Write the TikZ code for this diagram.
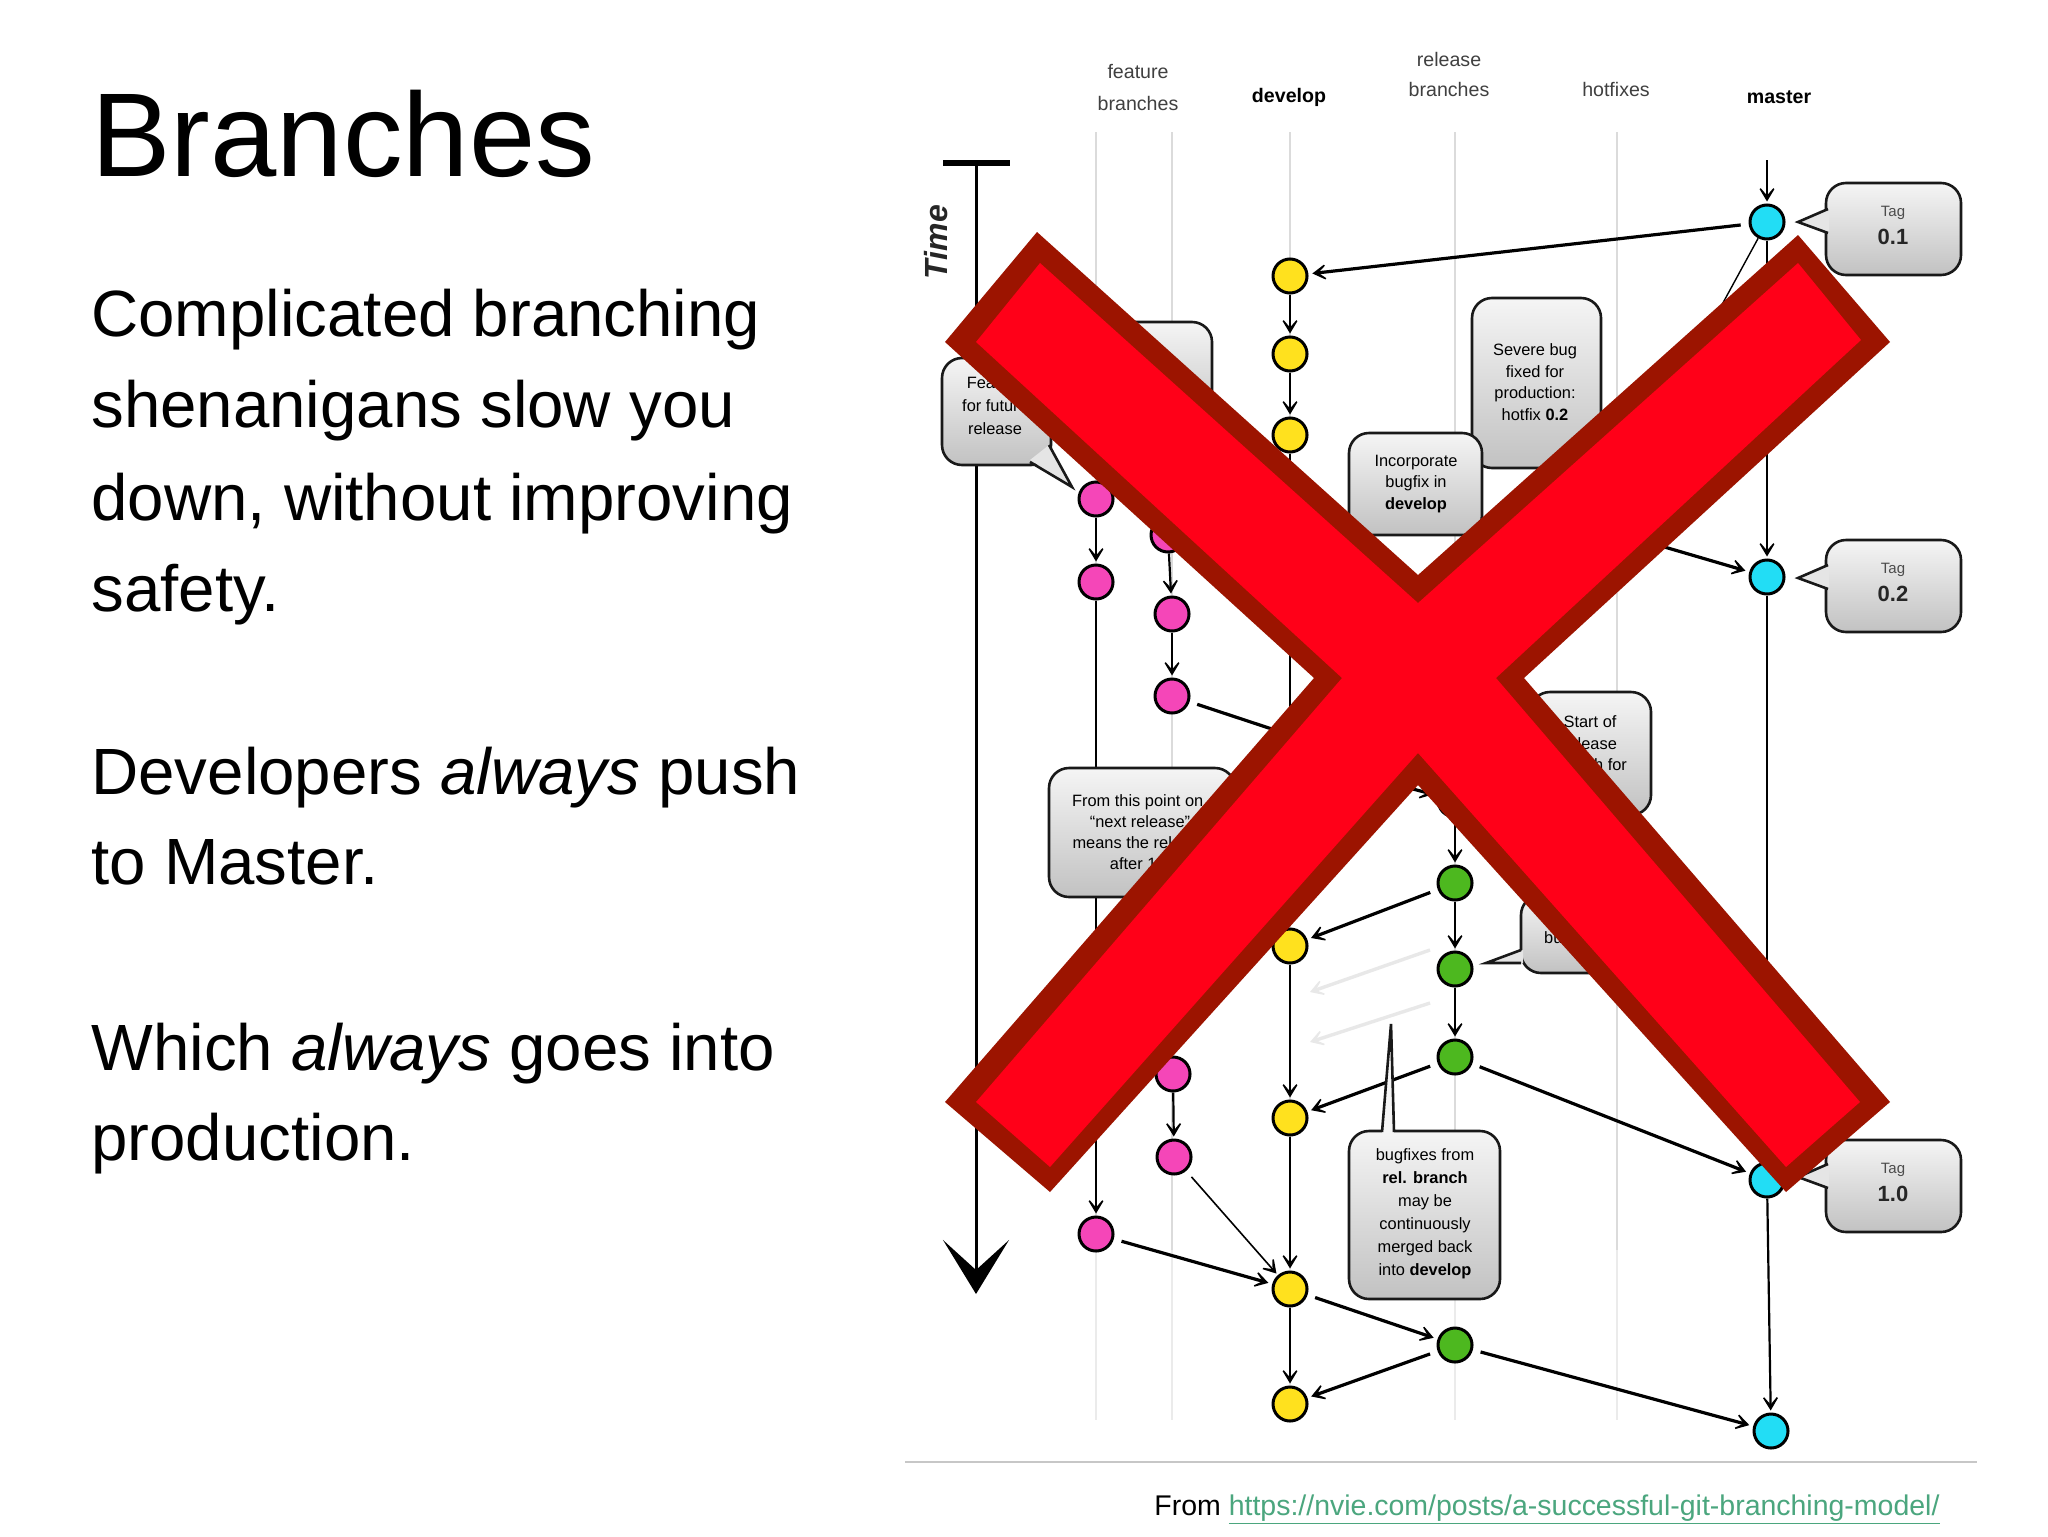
\documentclass[tikz,border=0pt]{standalone}
\usepackage{fontspec}
\setmainfont{Liberation Sans}
\usetikzlibrary{arrows.meta}
\definecolor{xred}{HTML}{FF0018}
\definecolor{xdark}{HTML}{9C1400}
\definecolor{linkgreen}{HTML}{4BA67E}
\definecolor{nyellow}{HTML}{FFE11E}
\definecolor{npink}{HTML}{F546B8}
\definecolor{nblue}{HTML}{22DDF5}
\definecolor{ngreen}{HTML}{4DB81F}
\tikzset{
  commit/.style={circle,draw=black,line width=1.5pt,minimum size=17pt,inner sep=0pt},
  yc/.style={commit,fill=nyellow}, pc/.style={commit,fill=npink},
  bc/.style={commit,fill=nblue}, gc/.style={commit,fill=ngreen},
  lifeline/.style={draw=black!14,line width=1.4pt},
  lifefade/.style={draw=black!8,line width=1pt},
  headtip/.style={-{Stealth[length=10pt,width=12pt,inset=7pt]}},
  vflow/.style={headtip,line width=1.1pt,shorten >=1pt},
  thinflow/.style={headtip,line width=.8pt,shorten >=1pt,shorten <=4pt},
  thickflow/.style={headtip,line width=1.6pt,shorten >=2pt,shorten <=4pt},
  plainflow/.style={line width=1.1pt},
  fineflow/.style={line width=.7pt},
  ghost/.style={-{Stealth[length=10pt,width=12pt,inset=7pt]},draw=black!9,line width=1.7pt},
  calloutbox/.style={draw=black!90,line width=1.3pt,rounded corners=10pt,top color=black!4,bottom color=black!24},
  tagtip/.style={fill=black!10,draw=none},
  tagedge/.style={draw=black!90,line width=1.3pt},
  note/.style={font=\fontsize{8.2pt}{10pt}\selectfont,inner sep=0pt,anchor=center},
  head/.style={font=\fontsize{9.8pt}{12pt}\selectfont,inner sep=0pt,anchor=center,text=black!75},
  headbold/.style={font=\fontsize{9.8pt}{12pt}\bfseries\selectfont,inner sep=0pt,anchor=center},
  tagsmall/.style={font=\fontsize{7.5pt}{9pt}\selectfont,inner sep=0pt,text=black!70},
  tagbig/.style={font=\fontsize{11pt}{13pt}\bfseries\selectfont,inner sep=0pt,text=black!85},
  body/.style={font=\fontsize{32.7pt}{40pt}\selectfont,inner sep=0pt,anchor=base west},
}
\newcommand{\tagbox}[5]{% y1 y2 tipY name text
  \path[calloutbox] (1826,#1) rectangle (1961,#2);
  \path[tagtip] (1829,#3-13) -- (1798,#3) -- (1829,#3+11) -- cycle;
  \draw[tagedge] (1828,#3-13) -- (1798,#3) -- (1828,#3+11);
  \node[tagsmall] (#4a) at (1893,#1+30) {Tag};
  \node[tagbig] (#4b) at (1893,#1+54) {#5};
}
\begin{document}
\begin{tikzpicture}[x=0.5pt,y=-0.5pt]
\useasboundingbox (0,0) rectangle (2048,1536);
\fill[white] (0,0) rectangle (2048,1536);

% text column
\node[inner sep=0pt,anchor=base west,font=\fontsize{59.6pt}{70pt}\selectfont] (title) at (91,176) {Branches};
\node[body] (b1) at (91,336) {Complicated branching};
\node[body] (b2) at (91,427) {shenanigans slow you};
\node[body] (b3) at (91,520) {down, without improving};
\node[body] (b4) at (91,611) {safety.};
\node[body] (b5) at (91,794) {Developers \textit{always} push};
\node[body] (b6) at (91,884) {to Master.};
\node[body] (b7) at (91,1070) {Which \textit{always} goes into};
\node[body] (b8) at (91,1160) {production.};

% column heads
\node[head] (hf1) at (1138,72) {feature};
\node[head] (hf2) at (1138,103) {branches};
\node[headbold] (hd) at (1289,97) {develop};
\node[head] (hr1) at (1449,59) {release};
\node[head] (hr2) at (1449,89) {branches};
\node[head] (hh) at (1616,89) {hotfixes};
\node[headbold] (hm) at (1779,97) {master};

% life lines
\foreach \n/\lx in {a/1096,b/1172,c/1290,d/1455,e/1617}{
  \coordinate (top\n) at (\lx,132);
  \coordinate (mid\n) at (\lx,1250);
  \coordinate (bot\n) at (\lx,1420);
  \draw[lifeline] (top\n) -- (mid\n);
  \draw[lifefade] (mid\n) -- (bot\n);
}

% time axis
\coordinate (tA) at (976,165);
\coordinate (tB) at (976,1294);
\coordinate (tL) at (943,163);
\coordinate (tR) at (1010,163);
\draw[line width=3.4pt] (tL) -- (tR);
\draw[-{Stealth[length=27pt,width=33pt,inset=15pt]},line width=1.5pt] (tA) -- (tB);
\node[rotate=90,inner sep=0pt,font=\fontsize{16pt}{18pt}\bfseries\itshape\selectfont,text=black!85] (time) at (936,242) {Time};

% commits
\node[bc] (m1) at (1767,222) {};
\node[bc] (m2) at (1767,577) {};
\node[bc] (m3) at (1767,1180) {};
\node[bc] (m4) at (1771,1431) {};
\node[yc] (y1) at (1290,276) {};
\node[yc] (y2) at (1290,354) {};
\node[yc] (y3) at (1290,435) {};
\node[yc] (y4) at (1290,946) {};
\node[yc] (y5) at (1290,1118) {};
\node[yc] (y6) at (1290,1289) {};
\node[yc] (y7) at (1290,1404) {};
\node[pc] (p1) at (1096,499) {};
\node[pc] (p2) at (1096,582) {};
\node[pc] (p0) at (1168,535) {};
\node[pc] (p3) at (1172,614) {};
\node[pc] (p4) at (1172,696) {};
\node[pc] (p5) at (1173,1074) {};
\node[pc] (p6) at (1174,1157) {};
\node[pc] (p7) at (1096,1234) {};
\node[gc] (g0) at (1455,800) {};
\node[gc] (g1) at (1455,883) {};
\node[gc] (g2) at (1455,969) {};
\node[gc] (g3) at (1455,1057) {};
\node[gc] (g4) at (1455,1345) {};

% free ends
\coordinate (mtop) at (1767,160);
\coordinate (hfa) at (1700,345);
\coordinate (hfb) at (1620,534);
\coordinate (d1) at (1290,735);
\coordinate (f1) at (1096,945);
\coordinate (f2) at (1172,1000);
\coordinate (r0) at (1340,770);
\coordinate (gh1) at (1430,950);
\coordinate (gh2) at (1310,992);
\coordinate (gh3) at (1430,1003);
\coordinate (gh4) at (1310,1042);

% flows
\draw[vflow] (mtop) -- (m1);
\draw[vflow] (m1) -- (m2);
\draw[vflow] (m2) -- (m3);
\draw[vflow] (m3) -- (m4);
\draw[fineflow] (m1) -- (hfa);
\draw[thickflow] (m1) -- (y1);
\draw[thickflow] (hfb) -- (m2);
\draw[vflow] (y1) -- (y2);
\draw[vflow] (y2) -- (y3);
\draw[vflow] (y3) -- (y4);
\draw[vflow] (y4) -- (y5);
\draw[vflow] (y5) -- (y6);
\draw[vflow] (y6) -- (y7);
\draw[vflow] (p1) -- (p2);
\draw[plainflow] (p2) -- (f1);
\draw[vflow] (f1) -- (p7);
\draw[vflow] (p0) -- (p3);
\draw[vflow] (p3) -- (p4);
\draw[thickflow] (p4) -- (d1);
\draw[vflow] (f2) -- (p5);
\draw[vflow] (p5) -- (p6);
\draw[thinflow] (p6) -- (y6);
\draw[thickflow] (p7) -- (y6);
\draw[vflow] (g0) -- (g1);
\draw[vflow] (g1) -- (g2);
\draw[vflow] (g2) -- (g3);
\draw[thickflow] (r0) -- (g0);
\draw[thickflow] (g1) -- (y4);
\draw[thickflow] (g3) -- (y5);
\draw[thickflow] (g3) -- (m3);
\draw[thickflow] (y6) -- (g4);
\draw[thickflow] (g4) -- (y7);
\draw[thickflow] (g4) -- (m4);
\draw[ghost] (gh1) -- (gh2);
\draw[ghost] (gh3) -- (gh4);

% callouts
\tagbox{183}{275}{222}{t1}{0.1}
\tagbox{540}{632}{578}{t2}{0.2}
\tagbox{1140}{1232}{1177}{t3}{1.0}

\path[calloutbox] (1060,322) rectangle (1212,430);

\path[calloutbox] (942,358) rectangle (1051,465);
\path[tagtip] (1030,460) -- (1072,487) -- (1049,445) -- cycle;
\draw[tagedge] (1030,462) -- (1072,487) -- (1049,445);
\node[note,align=center] (nfeat) at (995,406) {Feature\\[1.5pt]for future\\[1.5pt]release};

\path[calloutbox] (1472,298) rectangle (1601,468);
\node[note,align=center] (nsev) at (1535,382) {Severe bug\\[.8pt]fixed for\\[.8pt]production:\\[.8pt]hotfix \textbf{0.2}};

\path[calloutbox] (1349,433) rectangle (1482,535);
\node[note,align=center] (ninc) at (1416,484) {Incorporate\\[.8pt]bugfix in\\[.8pt]\textbf{develop}};

\path[calloutbox] (1049,768) rectangle (1235,897);
\node[note,align=center] (nfrom) at (1140,832) {From this point on,\\[.5pt]``next release''\\[.5pt]means the release\\[.5pt]after 1.0};

\path[calloutbox] (1530,692) rectangle (1651,815);
\node[note,align=center] (nstart) at (1590,754) {Start of\\[.8pt]release\\[.8pt]branch for\\[.8pt]1.0};

\path[calloutbox] (1521,895) rectangle (1640,973);
\path[tagtip] (1523,950) -- (1486,963) -- (1523,963) -- cycle;
\draw[tagedge] (1521,950) -- (1486,963) -- (1521,963);
\node[note,align=center] (nonly) at (1577,928) {Only\\[.8pt]bugfixes!};

\path[calloutbox] (1349,1131) rectangle (1500,1299);
\coordinate (spike) at (1391,1024);
\path[fill=black!4] (1382,1133) -- (spike) -- (1394,1133) -- cycle;
\draw[tagedge] (1382,1132) -- (spike) -- (1394,1132);
\node[note,align=center] (nbug) at (1425,1214) {bugfixes from\\[1.5pt]\textbf{rel. branch}\\[1.5pt]may be\\[1.5pt]continuously\\[1.5pt]merged back\\[1.5pt]into \textbf{develop}};

% big cross
\fill[xdark] (1037,232) -- (1418,575) -- (1798,235) -- (1890,342) -- (1524,678) -- (1890,1102) -- (1786,1192) -- (1418,785) -- (1050,1192) -- (945,1102) -- (1314,678) -- (945,342) -- cycle;
\fill[xred] (1040,263) -- (1418,603) -- (1798,263) -- (1861,340) -- (1496,678) -- (1860,1102) -- (1786,1167) -- (1418,753) -- (1050,1167) -- (976,1102) -- (1342,678) -- (976,342) -- cycle;

% footer
\coordinate (ruleL) at (905,1462);
\coordinate (ruleR) at (1977,1462);
\draw[black!22,line width=1pt] (ruleL) -- (ruleR);
\node[inner sep=0pt,anchor=base west,font=\fontsize{14.24pt}{16pt}\selectfont] (foot) at (1154,1515) {From \textcolor{linkgreen}{\underline{https://nvie.com/posts/a-successful-git-branching-model/}}};
\end{tikzpicture}
\end{document}
